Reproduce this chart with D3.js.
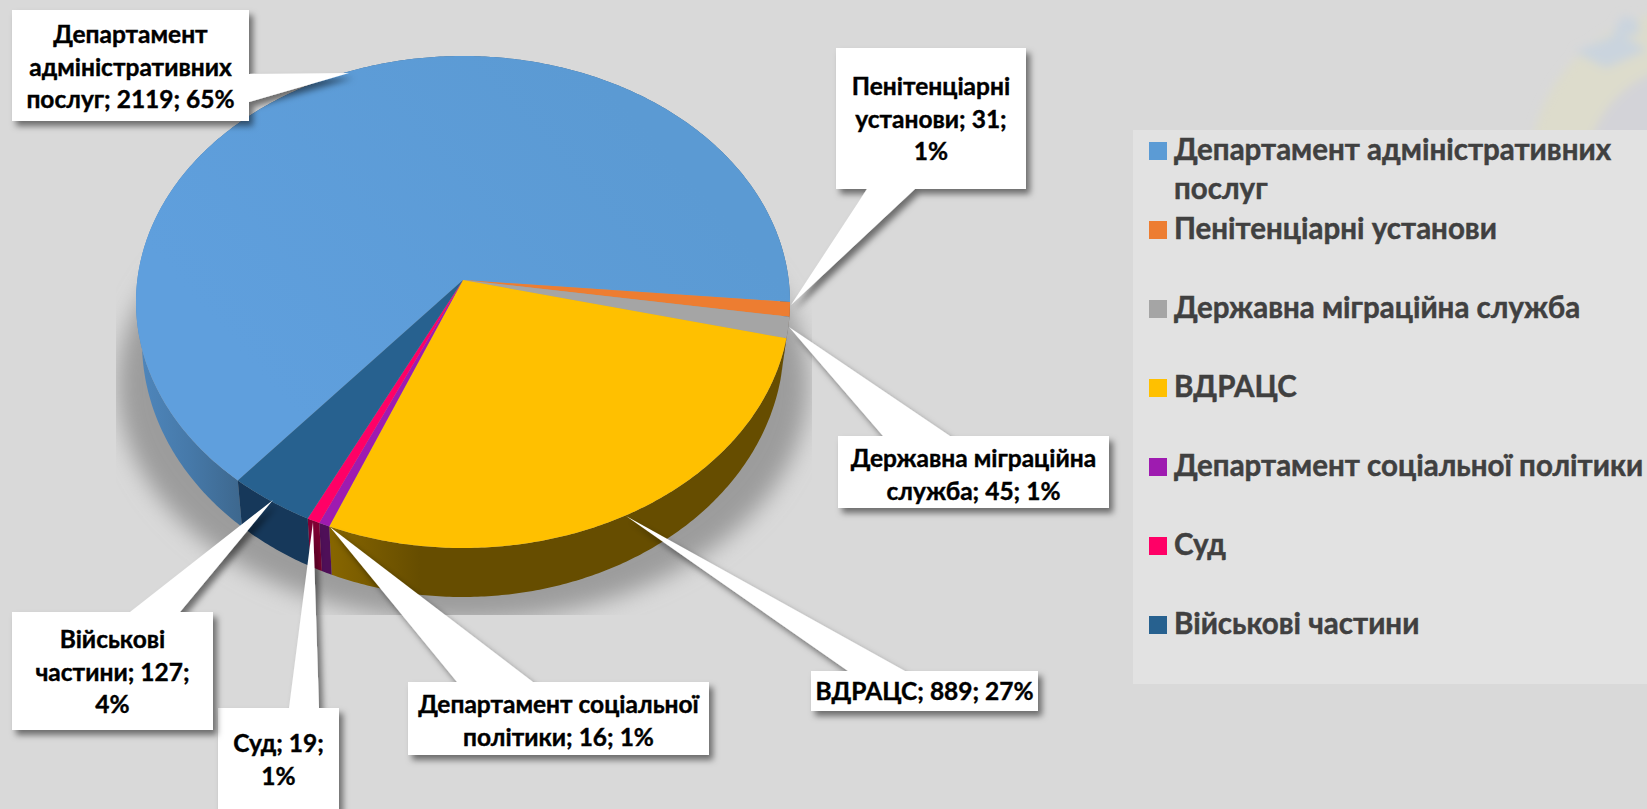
<!DOCTYPE html>
<html>
<head>
<meta charset="utf-8">
<script src="https://cdnjs.cloudflare.com/ajax/libs/d3/7.8.5/d3.min.js"></script>
<style>
html, body { margin: 0; padding: 0; background: #d9d9d9; overflow: hidden; }
text { font-family: "Lato", "Noto Sans", sans-serif; font-weight: 700; }
</style>
</head>
<body>
<svg id="pic" width="1647" height="809"></svg>
<script>
var names = ["Департамент адміністративних послуг", "Пенітенціарні установи", "Державна міграційна служба", "ВДРАЦС", "Департамент соціальної політики", "Суд", "Військові частини"];
var values = [2119, 31, 45, 889, 16, 19, 127];
var percents = [65, 1, 1, 27, 1, 1, 4];
var topColors = ["url(#blueTop)", "#ed7d31", "#a5a5a5", "#ffc000", "#9e1bb0", "#ff0066", "#27618f"];
var legendColors = ["#5b9bd5", "#ed7d31", "#a5a5a5", "#ffc000", "#9e1bb0", "#ff0066", "#27618f"];
var wallColors = ["url(#blueWall)", "#8a4a1e", "#666666", "url(#yellowWall)", "#4f0f58", "#7f0033", "#16385a"];
var wrapCounts = [[1, 1, 3], [1, 2, 1], [2, 3], [3], [2, 3], [2, 1], [1, 2, 1]];
var legendWrap = [2, 2, 3, 1, 3, 1, 2];

// callout boxes and wedge: box x0,y0,x1,y1, base of wedge, tip, first baseline
var callouts = [
  {box: [12, 10, 249, 121], base: [[249, 74], [249, 102]], tip: [349, 73], y: 43},
  {box: [836, 48, 1026, 189], base: [[915, 189], [867, 189]], tip: [791, 305], y: 95},
  {box: [838, 436, 1109, 508], base: [[950, 436], [883, 436]], tip: [789, 327], y: 467},
  {box: [811, 671, 1038, 711], base: [[905, 671], [848, 671]], tip: [626, 516], y: 700},
  {box: [408, 682, 709, 755], base: [[533, 682], [457, 682]], tip: [330, 527], y: 713},
  {box: [218, 708, 339, 815], base: [[319, 708], [289, 708]], tip: [313, 522], y: 752},
  {box: [12, 612, 213, 730], base: [[180, 612], [130, 612]], tip: [273, 500], y: 648}
];

var svg = d3.select("#pic");
var defs = svg.append("defs");

var blur = function(id, sd){
  defs.append("filter").attr("id", id)
    .attr("x", "-30%").attr("y", "-30%").attr("width", "160%").attr("height", "160%")
    .append("feGaussianBlur").attr("stdDeviation", sd);
};
blur("soft", 11);
blur("wm", 5);

var drop = defs.append("filter").attr("id", "drop")
  .attr("x", "-20%").attr("y", "-20%").attr("width", "140%").attr("height", "140%");
drop.append("feDropShadow").attr("dx", 4).attr("dy", 5).attr("stdDeviation", 3)
  .attr("flood-color", "#000").attr("flood-opacity", 0.5);

var grad = function(id, x1, x2, y1, y2, stops){
  var g = defs.append("linearGradient").attr("id", id).attr("gradientUnits", "userSpaceOnUse")
    .attr("x1", x1).attr("x2", x2).attr("y1", y1).attr("y2", y2);
  stops.forEach(function(s){ g.append("stop").attr("offset", s[0]).attr("stop-color", s[1]); });
};
grad("blueWall", 136, 243, 0, 0, [[0, "#4f87bd"], [0.5, "#4679a9"], [1, "#3d678d"]]);
grad("yellowWall", 333, 420, 0, 0, [[0, "#866500"], [1, "#664d00"]]);
grad("blueTop", 300, 640, 420, 120, [[0, "#5f9fdd"], [1, "#5b9ad3"]]);

defs.append("clipPath").attr("id", "shadowClip").append("rect")
  .attr("x", 116).attr("y", 0).attr("width", 696).attr("height", 615);
defs.append("clipPath").attr("id", "wmClip").append("rect")
  .attr("x", 1400).attr("y", 0).attr("width", 247).attr("height", 130);

// background
svg.append("rect").attr("width", 1647).attr("height", 809).attr("fill", "#d9d9d9");

// faded emblem behind the chart, top right
var wm = svg.append("g").attr("clip-path", "url(#wmClip)").append("g").attr("filter", "url(#wm)");
wm.append("circle").attr("cx", 1690).attr("cy", 170).attr("r", 160).attr("fill", "#dddccc");
wm.append("circle").attr("cx", 1690).attr("cy", 170).attr("r", 103).attr("fill", "#d3d3d8");
wm.append("path").attr("d", "M1575,52 L1612,36 L1622,16 L1638,20 L1640,34 L1625,36 L1647,50 L1606,68 Z").attr("fill", "#cad4de");

// legend panel
svg.append("rect").attr("x", 1133).attr("y", 130).attr("width", 514).attr("height", 554).attr("fill", "#e2e2e2");

// Pie geometry: perspective disc, the apex is not at the centre of the rim ellipse
var topRim = {cx: 463, cy: 302, rx: 327, ry: 246};
var botRim = {cx: 463, cy: 342, rx: 321, ry: 255};
var tilt = 0.0894;
var project = function(a, rim){
  var u = Math.sin(a), v = Math.cos(a);
  var w = 1 + tilt * v;
  return [rim.cx + rim.rx * u * Math.sqrt(1 - tilt * tilt) / w, rim.cy - rim.ry * (v + tilt) / w];
};
var apex = [topRim.cx, topRim.cy - topRim.ry * tilt];

var pie = d3.pie().sort(null);
var start = 220.1 * Math.PI / 180;
pie.startAngle(start).endAngle(start + 2 * Math.PI);
var slices = pie(values);

var rimPoints = function(d, rim){
  var n = Math.max(2, Math.ceil((d.endAngle - d.startAngle) / 0.01));
  return d3.range(n + 1).map(function(i){
    return project(d.startAngle + (d.endAngle - d.startAngle) * i / n, rim);
  });
};
var line = d3.line();

// shadow under the pie
svg.append("g").attr("clip-path", "url(#shadowClip)").append("ellipse")
  .attr("cx", 463).attr("cy", 385).attr("rx", 345).attr("ry", 236)
  .attr("fill", "#9c9c9c").attr("filter", "url(#soft)");

// side walls
svg.append("g").selectAll("path").data(slices).enter().append("path")
  .attr("d", function(d){
    return line(rimPoints(d, topRim).concat(rimPoints(d, botRim).reverse())) + "Z";
  })
  .attr("fill", function(d){ return wallColors[d.index]; });

// top faces
svg.append("g").selectAll("path").data(slices).enter().append("path")
  .attr("d", function(d){ return line([apex].concat(rimPoints(d, topRim))) + "Z"; })
  .attr("fill", function(d){ return topColors[d.index]; });

// callouts
var labels = svg.append("g").selectAll("g").data(callouts).enter().append("g");
labels.append("path")
  .attr("d", function(c){
    var b = c.box;
    var pts = [[b[0], b[1]], [b[2], b[1]], [b[2], b[3]], [b[0], b[3]]];
    return line(pts) + "Z " + line([c.base[0], c.tip, c.base[1]]) + "Z";
  })
  .attr("fill", "#fff").attr("filter", "url(#drop)");

var splitWords = function(str, counts){
  var words = str.split(" "), out = [], at = 0;
  counts.forEach(function(n){ out.push(words.slice(at, at + n).join(" ")); at += n; });
  return out;
};
labels.each(function(c, i){
  var txt = names[i] + "; " + values[i] + "; " + percents[i] + "%";
  var cx = (c.box[0] + c.box[2]) / 2;
  d3.select(this).selectAll("text").data(splitWords(txt, wrapCounts[i])).enter().append("text")
    .attr("x", cx).attr("y", function(d, j){ return c.y + j * 32.5; })
    .attr("text-anchor", "middle").attr("font-size", 24.5).attr("fill", "#000")
    .attr("stroke", "#000").attr("stroke-width", 0.4)
    .text(function(d){ return d; });
});

// legend
var rowY = d3.scaleLinear().domain([0, 1]).range([142, 221]);
var legend = svg.append("g").selectAll("g").data(names).enter().append("g");
legend.append("rect")
  .attr("x", 1149).attr("y", function(d, i){ return rowY(i); })
  .attr("width", 18).attr("height", 18)
  .attr("fill", function(d, i){ return legendColors[i]; });
legend.each(function(d, i){
  var w = d.split(" ");
  var parts = [w.slice(0, legendWrap[i]).join(" ")];
  if (w.length > legendWrap[i]) parts.push(w.slice(legendWrap[i]).join(" "));
  d3.select(this).selectAll("text").data(parts).enter().append("text")
    .attr("x", 1174).attr("y", function(p, j){ return rowY(i) + 18 + j * 39; })
    .attr("font-size", 29.5).attr("fill", "#404040")
    .attr("stroke", "#404040").attr("stroke-width", 0.45)
    .text(function(p){ return p; });
});
</script>
</body>
</html>
